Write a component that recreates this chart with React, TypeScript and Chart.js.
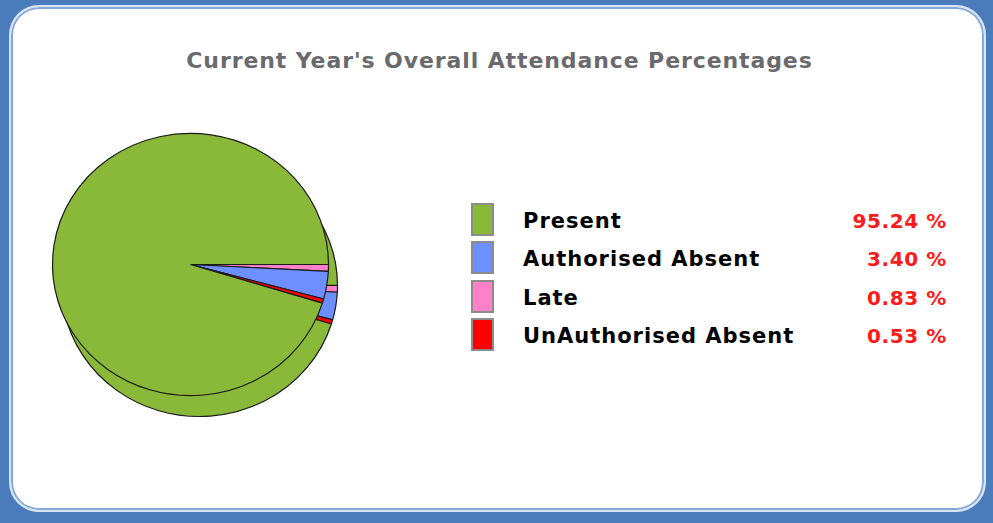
import React, { useEffect, useRef } from "react";
import { Chart, registerables } from "chart.js";

Chart.register(...registerables);

const titleText = "Current Year's Overall Attendance Percentages";
const categories = ["Present", "Authorised Absent", "Late", "UnAuthorised Absent"];
const percentages = [95.24, 3.4, 0.83, 0.53];
const percentLabels = ["95.24 %", "3.40 %", "0.83 %", "0.53 %"];
const sliceColors = ["#8AB838", "#6E8FFF", "#FF80C8", "#FF0000"];
// order in which slices are drawn clockwise from 3 o'clock
const pieOrder = [2, 1, 3, 0];

const depthPlugin = {
  id: "depth3d",
  beforeDatasetsDraw(chart: any) {
    const ctx = chart.ctx;
    const meta = chart.getDatasetMeta(0);
    const first = meta.data[0];
    if (!first) return;
    const cx = first.x;
    const cy = first.y;
    ctx.save();
    ctx.translate(cx, cy);
    ctx.scale(1, 0.95);
    ctx.translate(-cx, -cy);
    ctx.save();
    ctx.translate(9, 22);
    meta.data.forEach((a: any) => a.draw(ctx));
    ctx.restore();
  },
  afterDatasetsDraw(chart: any) {
    chart.ctx.restore();
  },
};

const font = "'DejaVu Sans', Verdana, sans-serif";

export default function App() {
  const ref = useRef<HTMLCanvasElement | null>(null);

  useEffect(() => {
    if (!ref.current) return;
    const chart = new Chart(ref.current, {
      type: "pie",
      data: {
        labels: pieOrder.map((i) => categories[i]),
        datasets: [
          {
            data: pieOrder.map((i) => percentages[i]),
            backgroundColor: pieOrder.map((i) => sliceColors[i]),
            borderColor: "#1a1a1a",
            borderWidth: 1.2,
          },
        ],
      },
      options: {
        responsive: false,
        animation: false,
        events: [],
        rotation: 90,
        radius: 138,
        layout: { padding: { left: 0, top: 0, right: 19, bottom: 19 } },
        plugins: {
          legend: { display: false },
          tooltip: { enabled: false },
          title: { display: false },
        },
      },
      plugins: [depthPlugin],
    });
    return () => chart.destroy();
  }, []);

  return (
    <div
      style={{
        position: "absolute",
        left: 0,
        top: 0,
        width: 993,
        height: 523,
        background: "#4A7BBA",
        overflow: "hidden",
      }}
    >
      <div
        style={{
          position: "absolute",
          left: 9,
          top: 5,
          width: 977,
          height: 507,
          boxSizing: "border-box",
          border: "2px solid #D6E4F5",
          borderRadius: 30,
          background: "#fff",
          boxShadow: "inset 0 0 0 2px #86A8D6",
        }}
      />
      <div
        style={{
          position: "absolute",
          left: 3,
          top: 47,
          width: 993,
          textAlign: "center",
          fontFamily: font,
          fontWeight: "bold",
          fontSize: 22,
          letterSpacing: "0.9px",
          lineHeight: "28px",
          color: "#6A6A6E",
          whiteSpace: "nowrap",
        }}
      >
        {titleText}
      </div>
      <canvas
        ref={ref}
        width={320}
        height={320}
        style={{ position: "absolute", left: 40, top: 114, width: 320, height: 320 }}
      />
      {categories.map((c, i) => (
        <div key={c}>
          <div
            style={{
              position: "absolute",
              left: 471,
              top: 203 + i * 38.3,
              width: 23,
              height: 33,
              boxSizing: "border-box",
              border: "2px solid #8C8C8C",
              background: sliceColors[i],
            }}
          />
          <div
            style={{
              position: "absolute",
              left: 523,
              top: 206 + i * 38.3,
              height: 30,
              lineHeight: "30px",
              fontFamily: font,
              fontWeight: "bold",
              fontSize: 21,
              letterSpacing: "1px",
              color: "#000",
              whiteSpace: "nowrap",
            }}
          >
            {c}
          </div>
          <div
            style={{
              position: "absolute",
              right: 993 - 947,
              top: 206 + i * 38.3,
              height: 30,
              lineHeight: "30px",
              fontFamily: font,
              fontWeight: "bold",
              fontSize: 20,
              letterSpacing: "0.6px",
              color: "#FF1A1A",
              whiteSpace: "nowrap",
              textAlign: "right",
            }}
          >
            {percentLabels[i]}
          </div>
        </div>
      ))}
    </div>
  );
}
